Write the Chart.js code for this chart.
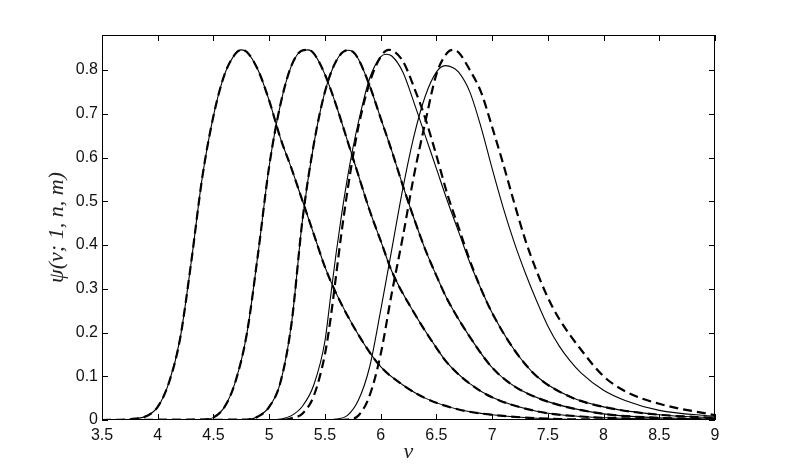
<!DOCTYPE html>
<html lang="en">
<head>
    <meta charset="UTF-8">
    <title>psi(nu;1,n,m)</title>
    <script src="https://cdn.jsdelivr.net/npm/chart.js"></script>
    <style>
        html, body { margin: 0; padding: 0; background: #fff; }
        canvas { display: block; }
    </style>
</head>
<body>
    <canvas id="psiChart" width="789" height="474"></canvas>

    <script>
        // axis ticks
        const xTicks = [3.5, 4, 4.5, 5, 5.5, 6, 6.5, 7, 7.5, 8, 8.5, 9];
        const xTickLabels = ["3.5", "4", "4.5", "5", "5.5", "6", "6.5", "7", "7.5", "8", "8.5", "9"];
        const yTicks = [0, 0.1, 0.2, 0.3, 0.4, 0.5, 0.6, 0.7, 0.8];
        const yTickLabels = ["0", "0.1", "0.2", "0.3", "0.4", "0.5", "0.6", "0.7", "0.8"];

        // curve 1 (solid and dashed coincide)
        const nu1 = [3.5, 3.7, 3.8, 3.9, 4.0, 4.1, 4.2, 4.3, 4.4, 4.5, 4.6, 4.7, 4.75, 4.8, 4.9, 5.0, 5.1, 5.2, 5.3, 5.4, 5.5, 5.6, 5.8, 6.0, 6.2, 6.4, 6.7, 7.0, 7.5, 8.0, 9.0];
        const psi1 = [0, 0.001, 0.003, 0.009, 0.03, 0.085, 0.185, 0.36, 0.555, 0.695, 0.79, 0.838, 0.846, 0.841, 0.80, 0.73, 0.645, 0.575, 0.50, 0.425, 0.35, 0.29, 0.195, 0.122, 0.08, 0.05, 0.024, 0.012, 0.003, 0.001, 0];

        // curve 2
        const nu2 = [3.5, 4.4, 4.5, 4.6, 4.7, 4.8, 4.9, 5.0, 5.1, 5.2, 5.3, 5.35, 5.4, 5.5, 5.6, 5.7, 5.8, 5.9, 6.0, 6.1, 6.3, 6.5, 6.6, 6.8, 7.0, 7.4, 7.8, 8.5, 9.0];
        const psi2 = [0, 0.001, 0.006, 0.03, 0.09, 0.198, 0.38, 0.58, 0.72, 0.81, 0.845, 0.846, 0.838, 0.79, 0.72, 0.64, 0.56, 0.48, 0.41, 0.34, 0.245, 0.165, 0.13, 0.083, 0.052, 0.02, 0.008, 0.002, 0];

        // curve 3
        const nu3 = [3.5, 4.8, 4.9, 5.0, 5.1, 5.2, 5.3, 5.4, 5.5, 5.6, 5.7, 5.75, 5.8, 5.9, 6.0, 6.1, 6.2, 6.3, 6.4, 6.5, 6.6, 6.8, 7.0, 7.2, 7.5, 8.0, 8.5, 9.0];
        const psi3 = [0, 0.001, 0.008, 0.03, 0.085, 0.22, 0.46, 0.63, 0.75, 0.82, 0.845, 0.842, 0.825, 0.765, 0.69, 0.615, 0.535, 0.46, 0.39, 0.33, 0.275, 0.19, 0.12, 0.077, 0.042, 0.014, 0.005, 0.002];

        // curve 4, solid
        const nu4 = [3.5, 5.0, 5.1, 5.2, 5.3, 5.4, 5.5, 5.55, 5.6, 5.65, 5.7, 5.75, 5.8, 5.9, 6.0, 6.05, 6.1, 6.2, 6.3, 6.4, 6.5, 6.6, 6.7, 6.8, 6.9, 7.0, 7.2, 7.4, 7.7, 8.0, 8.5, 9.0];
        const psi4 = [0, 0, 0.002, 0.01, 0.032, 0.08, 0.18, 0.28, 0.38, 0.47, 0.55, 0.62, 0.68, 0.78, 0.83, 0.836, 0.832, 0.795, 0.725, 0.65, 0.575, 0.50, 0.43, 0.36, 0.30, 0.245, 0.16, 0.10, 0.053, 0.03, 0.012, 0.005];

        // curve 4, dashed
        const nu4d = [3.5, 5.1, 5.2, 5.3, 5.4, 5.5, 5.55, 5.6, 5.65, 5.7, 5.75, 5.8, 5.9, 6.0, 6.07, 6.1, 6.2, 6.3, 6.4, 6.5, 6.6, 6.7, 6.8, 6.9, 7.0, 7.2, 7.4, 7.7, 8.0, 8.5, 9.0];
        const psi4d = [0, 0, 0.004, 0.015, 0.055, 0.15, 0.23, 0.33, 0.43, 0.52, 0.60, 0.67, 0.77, 0.83, 0.846, 0.845, 0.82, 0.76, 0.69, 0.605, 0.515, 0.44, 0.365, 0.30, 0.245, 0.16, 0.10, 0.053, 0.03, 0.012, 0.005];

        // curve 5, solid
        const nu5 = [3.5, 5.5, 5.6, 5.7, 5.8, 5.9, 6.0, 6.1, 6.2, 6.3, 6.4, 6.5, 6.58, 6.65, 6.7, 6.8, 6.9, 7.0, 7.1, 7.2, 7.3, 7.4, 7.5, 7.6, 7.7, 7.8, 8.0, 8.2, 8.5, 9.0];
        const psi5 = [0, 0, 0.002, 0.01, 0.045, 0.12, 0.25, 0.39, 0.53, 0.65, 0.74, 0.795, 0.81, 0.805, 0.795, 0.75, 0.67, 0.575, 0.485, 0.405, 0.335, 0.272, 0.215, 0.17, 0.135, 0.107, 0.068, 0.044, 0.022, 0.008];

        // curve 5, dashed
        const nu5d = [3.5, 5.6, 5.7, 5.8, 5.9, 6.0, 6.1, 6.2, 6.3, 6.4, 6.5, 6.6, 6.65, 6.7, 6.8, 6.9, 7.0, 7.1, 7.2, 7.3, 7.4, 7.5, 7.6, 7.8, 8.0, 8.2, 8.5, 9.0];
        const psi5d = [0, 0, 0.001, 0.01, 0.055, 0.15, 0.29, 0.42, 0.56, 0.68, 0.79, 0.84, 0.846, 0.84, 0.80, 0.75, 0.67, 0.585, 0.495, 0.41, 0.34, 0.28, 0.232, 0.16, 0.10, 0.065, 0.037, 0.011];

        function pts(xs, ys) {
            return xs.map((v, i) => ({ x: v, y: ys[i] }));
        }

        function solid(xs, ys) {
            return { data: pts(xs, ys), borderColor: "#000", borderWidth: 1.1 };
        }

        function dashed(xs, ys) {
            return { data: pts(xs, ys), borderColor: "#000", borderWidth: 2.2, borderDash: [9, 5] };
        }

        // inward tick marks on all four sides plus the box, MATLAB style
        const boxTicks = {
            id: "boxTicks",
            afterDatasetsDraw(chart) {
                const { ctx, chartArea: a, scales: { x, y } } = chart;
                const len = 6;
                ctx.save();
                ctx.strokeStyle = "#000";
                ctx.lineWidth = 1;
                ctx.beginPath();
                xTicks.forEach(v => {
                    const px = Math.round(x.getPixelForValue(v)) + 0.5;
                    ctx.moveTo(px, a.bottom); ctx.lineTo(px, a.bottom - len);
                    ctx.moveTo(px, a.top); ctx.lineTo(px, a.top + len);
                });
                yTicks.forEach(v => {
                    const py = Math.round(y.getPixelForValue(v)) + 0.5;
                    ctx.moveTo(a.left, py); ctx.lineTo(a.left + len, py);
                    ctx.moveTo(a.right, py); ctx.lineTo(a.right - len, py);
                });
                ctx.stroke();
                ctx.strokeRect(a.left + 0.5, a.top + 0.5, a.right - a.left - 1, a.bottom - a.top - 1);
                ctx.restore();
            }
        };

        const tickFont = { family: "'Liberation Sans', Arial, Helvetica, sans-serif", size: 16 };
        const titleFont = { family: "'Liberation Serif', 'Times New Roman', serif", size: 22, style: "italic" };

        new Chart(document.getElementById("psiChart"), {
            type: "line",
            data: {
                datasets: [
                    solid(nu1, psi1), dashed(nu1, psi1),
                    solid(nu2, psi2), dashed(nu2, psi2),
                    solid(nu3, psi3), dashed(nu3, psi3),
                    solid(nu4, psi4), dashed(nu4d, psi4d),
                    solid(nu5, psi5), dashed(nu5d, psi5d)
                ]
            },
            options: {
                responsive: false,
                devicePixelRatio: 1,
                animation: false,
                layout: { padding: { top: 35, right: 74, bottom: 0, left: 0 } },
                elements: {
                    point: { radius: 0 },
                    line: { cubicInterpolationMode: "monotone", fill: false }
                },
                plugins: {
                    legend: { display: false },
                    tooltip: { enabled: false }
                },
                scales: {
                    x: {
                        type: "linear",
                        min: 3.5,
                        max: 9,
                        grid: { display: false, drawTicks: false },
                        border: { display: false },
                        afterBuildTicks: s => { s.ticks = xTicks.map(v => ({ value: v })); },
                        afterFit: s => { s.height = 54; },
                        ticks: {
                            font: tickFont,
                            color: "#111",
                            padding: 6,
                            maxRotation: 0,
                            autoSkip: false,
                            callback: (v, i) => xTickLabels[i]
                        },
                        title: {
                            display: true,
                            text: "ν",
                            font: titleFont,
                            color: "#222",
                            padding: { top: 0, bottom: 9 }
                        }
                    },
                    y: {
                        min: 0,
                        max: 0.88,
                        grid: { display: false, drawTicks: false },
                        border: { display: false },
                        afterBuildTicks: s => { s.ticks = yTicks.map(v => ({ value: v })); },
                        afterFit: s => { s.width = 102; },
                        ticks: {
                            font: tickFont,
                            color: "#111",
                            padding: 4,
                            autoSkip: false,
                            callback: (v, i) => yTickLabels[i]
                        },
                        title: {
                            display: true,
                            text: "ψ(ν; 1, n, m)",
                            font: titleFont,
                            color: "#222",
                            padding: { top: 44, bottom: 0 }
                        }
                    }
                }
            },
            plugins: [boxTicks]
        });
    </script>
</body>
</html>
